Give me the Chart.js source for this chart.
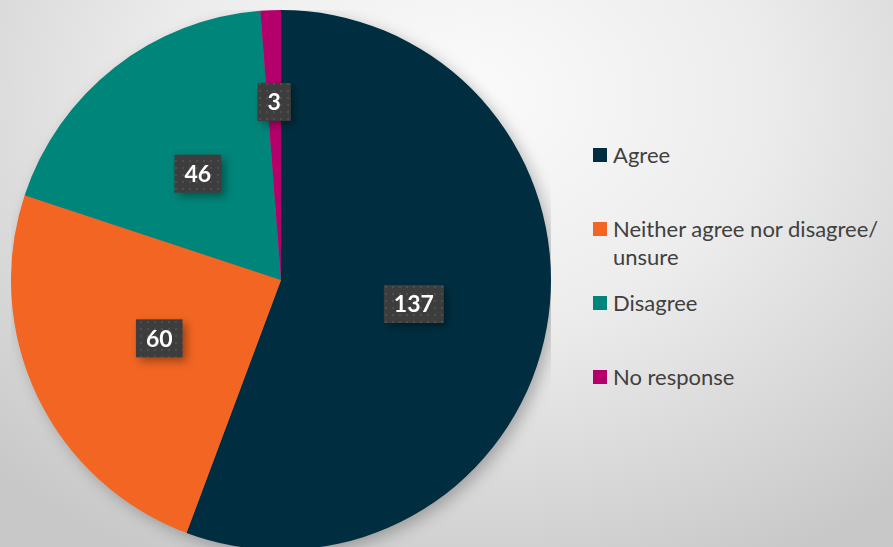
<!DOCTYPE html>
<html>
<head>
<meta charset="utf-8">
<script src="https://cdn.jsdelivr.net/npm/chart.js@4"></script>
<style>
  html, body {
    margin: 0;
    padding: 0;
    width: 893px;
    height: 547px;
    overflow: hidden;
  }
  body {
    position: relative;
    background: radial-gradient(ellipse 75% 95% at 52% 18%, #fbfbfb 0%, #ececec 45%, #d2d2d2 85%, #c8c8c8 100%);
    font-family: Lato, "Noto Sans", sans-serif;
  }
  #pieWrap {
    position: absolute;
    left: 11px;
    top: 10px;
    width: 540px;
    height: 540px;
  }
  #legend {
    position: absolute;
    left: 593px;
    top: 0;
    width: 300px;
  }
  .item {
    position: absolute;
    left: 0;
    width: 298px;
    color: #404040;
    font-size: 22px;
    line-height: 28px;
  }
  .item .box {
    position: absolute;
    left: 0;
    top: 7px;
    width: 14px;
    height: 14px;
  }
  .item .txt {
    margin-left: 20px;
  }
</style>
</head>
<body>
<div id="pieWrap"><canvas id="pieChart"></canvas></div>
<div id="legend"></div>
<script>
// Survey responses
const categories = ['Agree', 'Neither agree nor disagree/ unsure', 'Disagree', 'No response'];
const counts = [137, 60, 46, 3];
const colours = ['#002e40', '#f26522', '#00857a', '#b5006b'];

// Legend - square centres sit at 155, 229, 303, 377
const legend = document.getElementById('legend');
categories.forEach((cat, i) => {
    const item = document.createElement('div');
    item.className = 'item';
    item.style.top = (141 + i * 74) + 'px';
    item.innerHTML = `<span class="box" style="background:${colours[i]}"></span><div class="txt">${cat}</div>`;
    legend.appendChild(item);
});

// Soft shadow behind the pie
const pieShadow = {
    id: 'pieShadow',
    beforeDatasetsDraw(chart) {
        const arc = chart.getDatasetMeta(0).data[0];
        if (!arc) return;
        const ctx = chart.ctx;
        ctx.save();
        ctx.shadowColor = 'rgba(0, 0, 0, 0.28)';
        ctx.shadowBlur = 16;
        ctx.shadowOffsetX = 5;
        ctx.shadowOffsetY = 5;
        ctx.fillStyle = '#777';
        ctx.beginPath();
        ctx.arc(arc.x, arc.y, arc.outerRadius - 1, 0, Math.PI * 2);
        ctx.fill();
        ctx.restore();
    }
};

// Dark boxed value labels
let dotPattern = null;
function getPattern(ctx) {
    if (dotPattern) return dotPattern;
    const c = document.createElement('canvas');
    c.width = 7;
    c.height = 7;
    const p = c.getContext('2d');
    p.fillStyle = '#3d3d3d';
    p.fillRect(0, 0, 7, 7);
    p.fillStyle = '#4e4e4e';
    p.fillRect(3, 3, 2, 2);
    dotPattern = ctx.createPattern(c, 'repeat');
    return dotPattern;
}

const boxLabels = {
    id: 'boxLabels',
    afterDatasetsDraw(chart, args, opts) {
        const ctx = chart.ctx;
        const meta = chart.getDatasetMeta(0);
        const values = chart.data.datasets[0].data;
        ctx.save();
        ctx.font = 'bold 23px Lato, "Noto Sans", sans-serif';
        ctx.textAlign = 'center';
        ctx.textBaseline = 'middle';
        meta.data.forEach((arc, i) => {
            const mid = (arc.startAngle + arc.endAngle) / 2;
            const r = arc.outerRadius * (opts.radius[i] || 0.5);
            const cx = arc.x + Math.cos(mid) * r;
            const cy = arc.y + Math.sin(mid) * r;
            const text = String(values[i]);
            const w = ctx.measureText(text).width + 20;
            const h = 38;
            ctx.save();
            ctx.shadowColor = 'rgba(0, 0, 0, 0.35)';
            ctx.shadowBlur = 8;
            ctx.shadowOffsetX = 4;
            ctx.shadowOffsetY = 4;
            ctx.fillStyle = getPattern(ctx);
            ctx.fillRect(cx - w / 2, cy - h / 2, w, h);
            ctx.restore();
            ctx.fillStyle = '#ffffff';
            ctx.fillText(text, cx, cy + 1);
        });
        ctx.restore();
    }
};

const ctx = document.getElementById('pieChart').getContext('2d');
new Chart(ctx, {
    type: 'pie',
    data: {
        labels: categories,
        datasets: [{
            data: counts,
            backgroundColor: colours,
            borderWidth: 0
        }]
    },
    options: {
        responsive: true,
        maintainAspectRatio: false,
        animation: false,
        layout: {
            padding: 0
        },
        plugins: {
            legend: {
                display: false
            },
            tooltip: {
                enabled: false
            },
            boxLabels: {
                radius: [0.5, 0.5, 0.5, 0.66]
            }
        }
    },
    plugins: [pieShadow, boxLabels]
});
</script>
</body>
</html>
